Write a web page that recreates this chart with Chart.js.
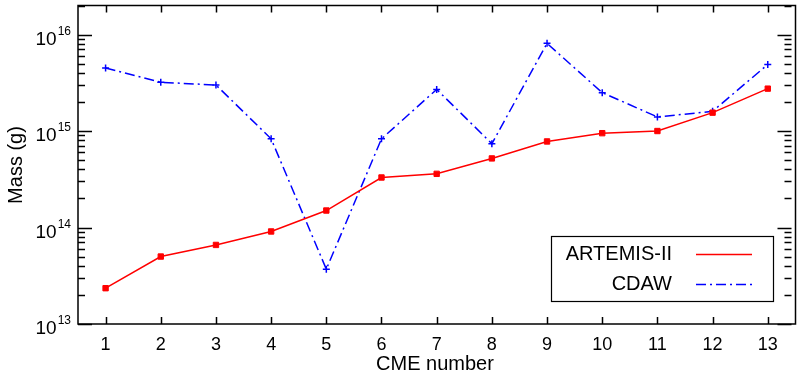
<!DOCTYPE html>
<html>
<head>
<meta charset="utf-8">
<script src="https://cdn.jsdelivr.net/npm/chart.js@4.4.0/dist/chart.umd.min.js"></script>
<style>
  html, body { margin: 0; padding: 0; background: #fff; }
  #wrap { width: 797px; height: 379px; }
</style>
</head>
<body>
<div id="wrap"><canvas id="massChart" width="797" height="379"></canvas></div>
<script>
// CME numbers on the x axis
const cmeNumbers = [1, 2, 3, 4, 5, 6, 7, 8, 9, 10, 11, 12, 13];
// masses in grams
const artemisMass = [2.35e13, 5.0e13, 6.6e13, 9.1e13, 1.5e14, 3.3e14, 3.6e14, 5.2e14, 7.8e14, 9.5e14, 1.0e15, 1.55e15, 2.75e15];
const cdawMass = [4.5e15, 3.2e15, 3.0e15, 8.3e14, 3.7e13, 8.3e14, 2.7e15, 7.4e14, 8.1e15, 2.5e15, 1.4e15, 1.6e15, 4.9e15];
// y axis decades
const yDecades = [13, 14, 15, 16];

const FONT = "'Liberation Sans', Arial, sans-serif";

const toPoints = (vals) => cmeNumbers.map((n, i) => ({ x: n, y: vals[i] }));

// frame, inward ticks, tick labels, titles and legend (IDL style)
const idlAxes = {
  id: "idlAxes",
  afterDraw(chart) {
    const ctx = chart.ctx;
    const a = chart.chartArea;
    const xs = chart.scales.x;
    const ys = chart.scales.y;
    ctx.save();
    ctx.strokeStyle = "#000";
    ctx.fillStyle = "#000";
    ctx.lineWidth = 1.5;
    ctx.strokeRect(a.left, a.top, a.right - a.left + 4, a.bottom - a.top);

    // x ticks top and bottom
    ctx.beginPath();
    cmeNumbers.forEach((n) => {
      const px = Math.round(xs.getPixelForValue(n)) + 0.5;
      ctx.moveTo(px, a.bottom); ctx.lineTo(px, a.bottom - 7);
      ctx.moveTo(px, a.top); ctx.lineTo(px, a.top + 7);
    });
    // y ticks left and right
    yDecades.forEach((d) => {
      for (let m = 1; m <= 9; m++) {
        const v = m * Math.pow(10, d);
        if (v > ys.max || v < ys.min) continue;
        const py = Math.round(ys.getPixelForValue(v)) + 0.5;
        const len = m === 1 ? 14 : 7;
        ctx.moveTo(a.left, py); ctx.lineTo(a.left + len, py);
        ctx.moveTo(a.right, py); ctx.lineTo(a.right - len, py);
      }
    });
    ctx.stroke();

    // x tick labels
    ctx.font = "18px " + FONT;
    ctx.textAlign = "center";
    ctx.textBaseline = "middle";
    cmeNumbers.forEach((n) => {
      ctx.fillText(String(n), xs.getPixelForValue(n), 345);
    });

    // y tick labels 10^n
    yDecades.forEach((d) => {
      const py = ys.getPixelForValue(Math.pow(10, d));
      ctx.font = "12px " + FONT;
      ctx.textAlign = "right";
      ctx.textBaseline = "alphabetic";
      const expW = ctx.measureText(String(d)).width;
      ctx.fillText(String(d), a.left - 7, py);
      ctx.font = "19px " + FONT;
      ctx.fillText("10", a.left - 8 - expW, py + 10);
    });

    // axis titles
    ctx.font = "20px " + FONT;
    ctx.textAlign = "center";
    ctx.textBaseline = "middle";
    ctx.fillText("CME number", 435, 364);
    ctx.save();
    ctx.translate(16, 165);
    ctx.rotate(-Math.PI / 2);
    ctx.fillText("Mass (g)", 0, 0);
    ctx.restore();

    // legend
    ctx.fillStyle = "#fff";
    ctx.fillRect(551, 236, 222, 65);
    ctx.lineWidth = 1.2;
    ctx.strokeStyle = "#000";
    ctx.strokeRect(551.5, 236.5, 222, 65);
    ctx.font = "20px " + FONT;
    ctx.textAlign = "right";
    ctx.fillStyle = "#000";
    const rows = [254, 284];
    chart.data.datasets.forEach((ds, i) => {
      ctx.fillText(ds.label, 672, rows[i]);
      ctx.beginPath();
      ctx.strokeStyle = ds.borderColor;
      ctx.lineWidth = 1.5;
      ctx.setLineDash(ds.borderDash || []);
      ctx.moveTo(696, rows[i] + 0.5);
      ctx.lineTo(752, rows[i] + 0.5);
      ctx.stroke();
      ctx.setLineDash([]);
    });
    ctx.restore();
  },
};

new Chart(document.getElementById("massChart"), {
  type: "line",
  data: {
    datasets: [
      {
        label: "ARTEMIS-II",
        data: toPoints(artemisMass),
        borderColor: "#ff0000",
        backgroundColor: "#ff0000",
        borderWidth: 1.5,
        pointStyle: "rect",
        pointRadius: 3.8,
        pointBorderWidth: 1,
        tension: 0,
      },
      {
        label: "CDAW",
        data: toPoints(cdawMass),
        borderColor: "#0000ff",
        backgroundColor: "#0000ff",
        borderWidth: 1.5,
        borderDash: [10, 4, 2, 4],
        pointStyle: "cross",
        pointRadius: 3.5,
        pointBorderWidth: 1.5,
        tension: 0,
      },
    ],
  },
  options: {
    responsive: false,
    animation: false,
    devicePixelRatio: 1,
    layout: { padding: { left: 78, right: 0, top: 5, bottom: 55 } },
    plugins: { legend: { display: false }, tooltip: { enabled: false } },
    scales: {
      x: { type: "linear", min: 0.5, max: 13.43, display: false },
      y: { type: "logarithmic", min: 1e13, max: 2e16, display: false },
    },
  },
  plugins: [idlAxes],
});
</script>
</body>
</html>
